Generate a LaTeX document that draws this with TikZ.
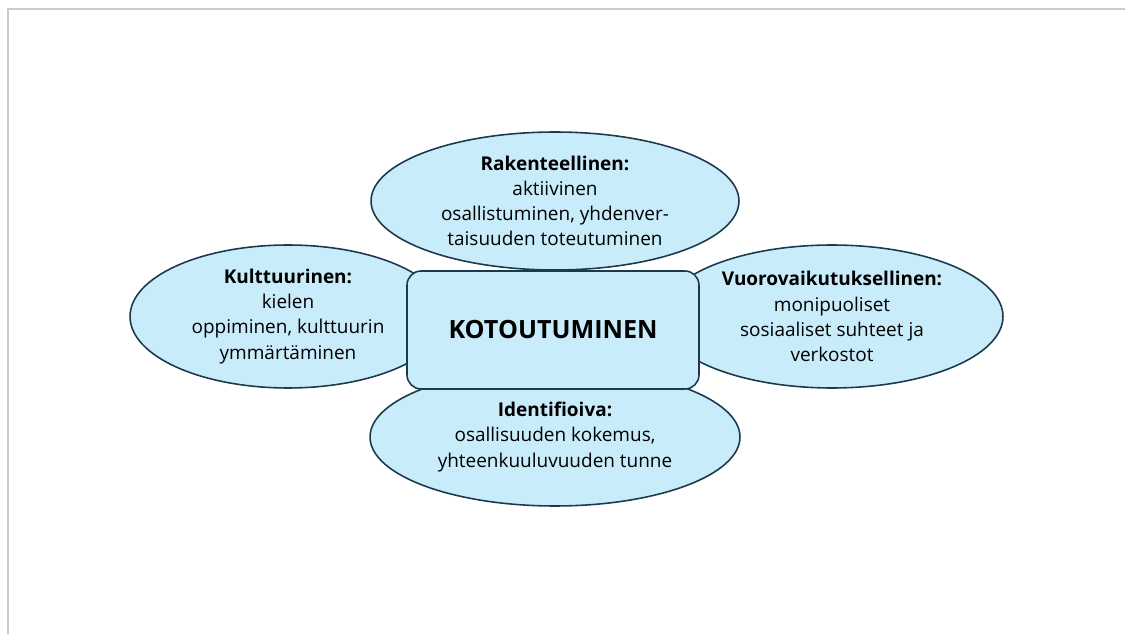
\documentclass[tikz,border=0pt]{standalone}
\usepackage{fontspec}
\setmainfont{Open Sans}
\usetikzlibrary{shapes.geometric}
\definecolor{kfill}{HTML}{C9ECFA}
\definecolor{kline}{HTML}{1D3A4C}
\definecolor{kframe}{HTML}{CCCCCC}
\begin{document}
\begin{tikzpicture}[x=0.02cm, y=-0.02cm,
    osa/.style={ellipse, draw=kline, fill=kfill, line width=0.9pt, inner sep=0pt,
        align=center, font=\fontsize{10.8}{14.3}\selectfont},
    ydin/.style={rectangle, rounded corners=8pt, draw=kline, fill=kfill, line width=0.9pt,
        minimum width=5.84cm, minimum height=2.36cm, font=\fontsize{14.3}{16}\selectfont\bfseries}]
    \useasboundingbox (0,0) rectangle (1125,634);
    % --- kehys ---
    \draw[kframe, line width=0.6pt] (8,634) -- (8,9) -- (1125,9);

    % --- sivut ---
    \node[osa, minimum width=6.32cm, minimum height=2.86cm] (kult) at (288,316.5)
        {\textbf{Kulttuurinen:}\\kielen\\oppiminen, kulttuurin\\ymmärtäminen};
    \node[osa, minimum width=6.84cm, minimum height=2.86cm] (vuoro) at (832,316.5)
        {\textbf{Vuorovaikutuksellinen:}\\monipuoliset\\sosiaaliset suhteet ja\\verkostot};

    % --- ylä ja ala ---
    \node[osa, minimum width=7.36cm, minimum height=2.76cm] (rak) at (555,201)
        {\textbf{Rakenteellinen:}\\aktiivinen\\osallistuminen, yhdenver-\\taisuuden toteutuminen};
    \node[osa, minimum width=7.4cm, minimum height=2.76cm] (iden) at (555,437)
        {\textbf{Identifioiva:}\\osallisuuden kokemus,\\yhteenkuuluvuuden tunne};

    % --- keskus ---
    \node[ydin] (koto) at (553,330) {KOTOUTUMINEN};
\end{tikzpicture}
\end{document}
